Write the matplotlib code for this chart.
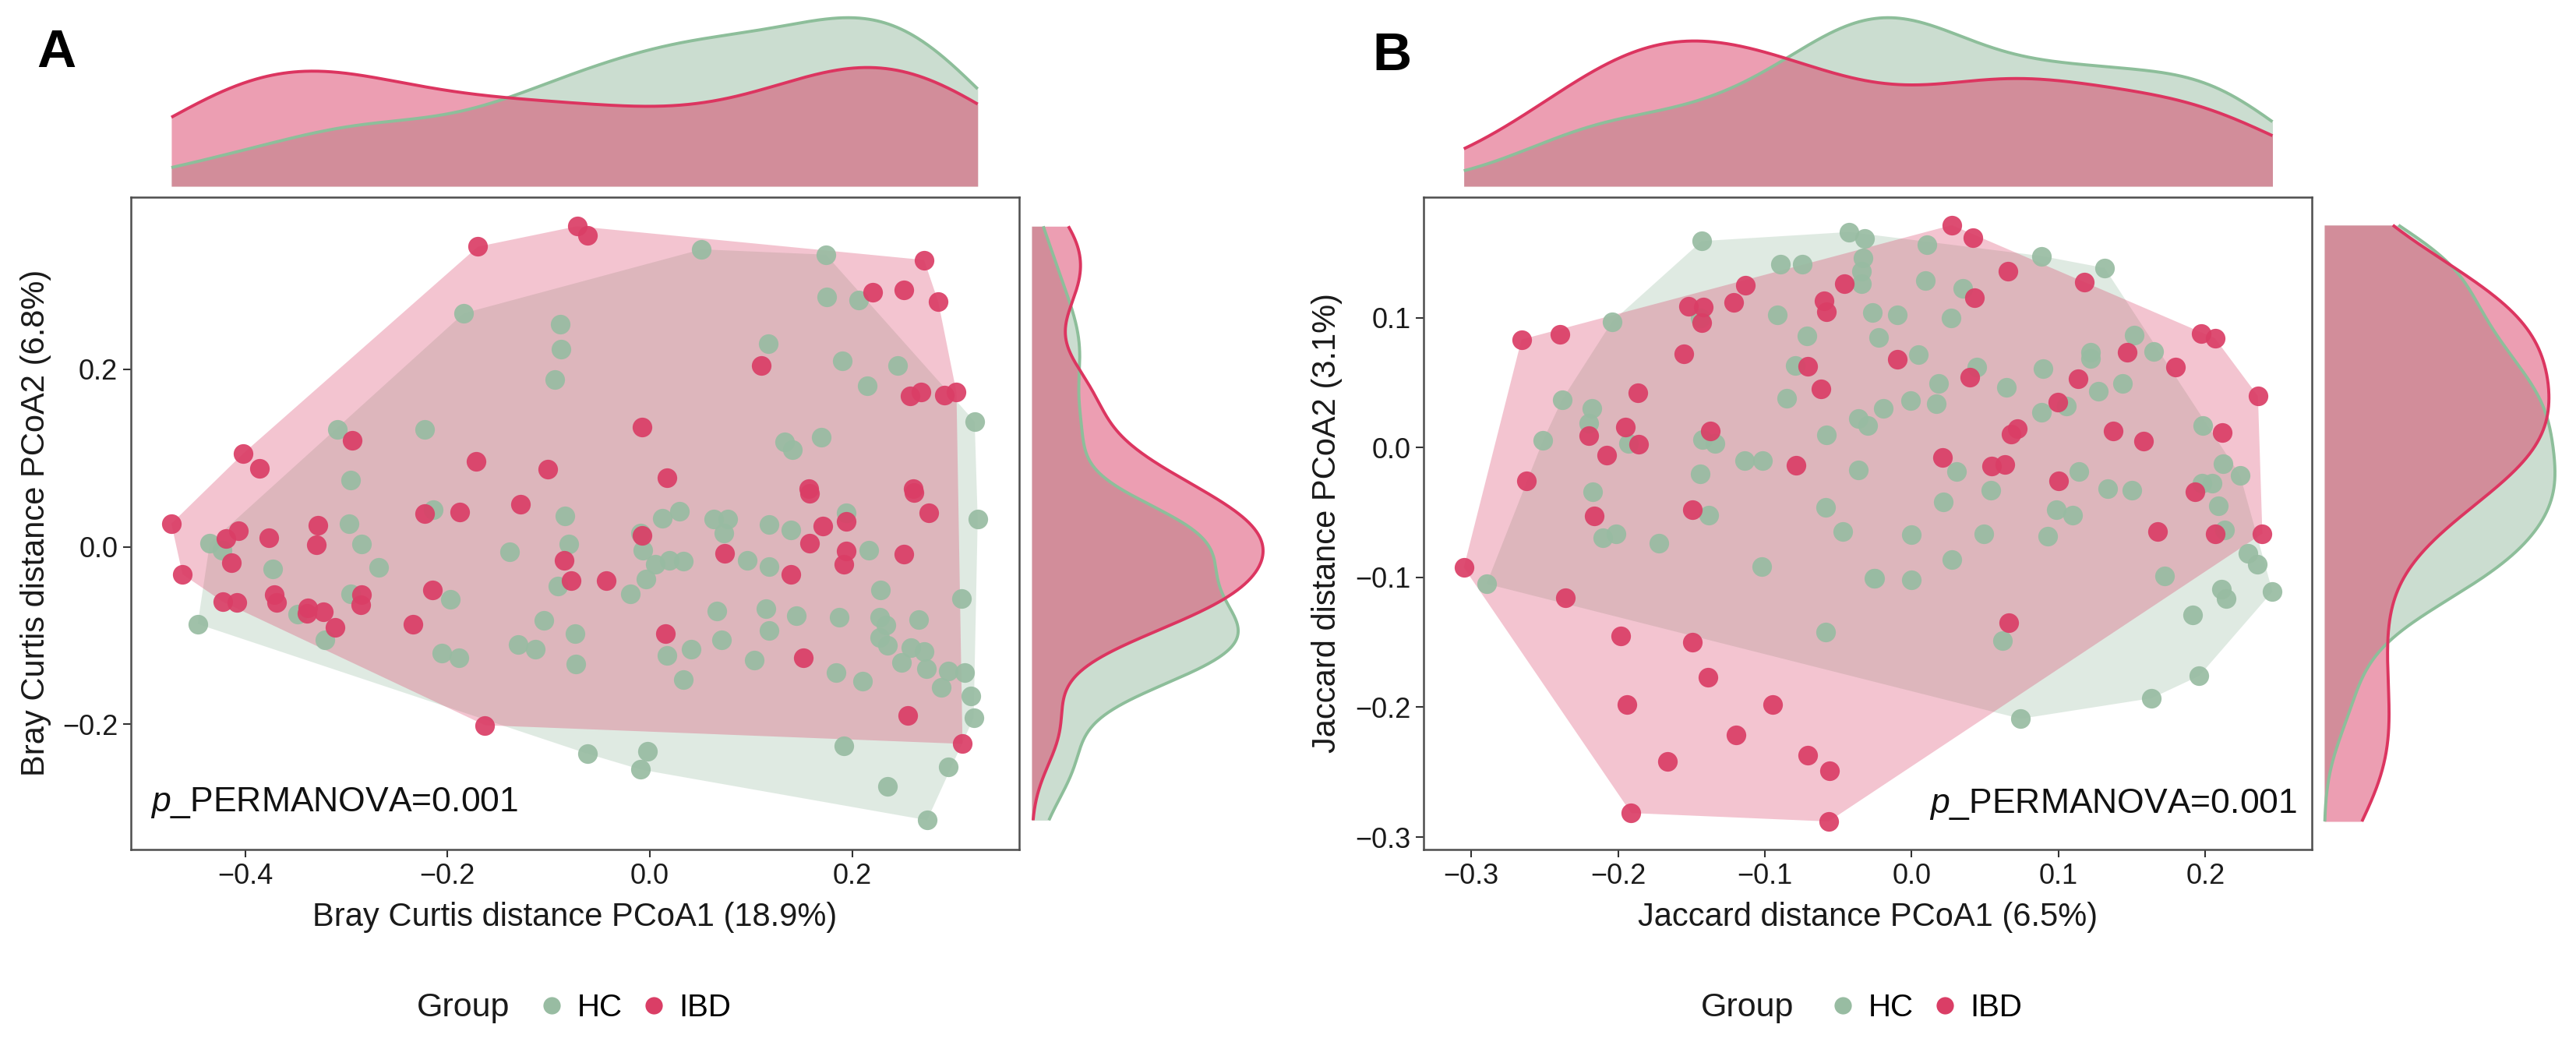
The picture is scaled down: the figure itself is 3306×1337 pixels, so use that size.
import numpy as np
import matplotlib
matplotlib.use('Agg')
import matplotlib.pyplot as plt
from matplotlib.lines import Line2D

plt.rcParams['font.family'] = ['Liberation Sans', 'DejaVu Sans']
plt.rcParams['mathtext.fontset'] = 'custom'
plt.rcParams['mathtext.it'] = 'Liberation Sans:italic'
plt.rcParams['mathtext.rm'] = 'Liberation Sans'

groups = ['HC', 'IBD']
group_colors = ['#98BCA2', '#DA3E66']
line_colors = ['#8DBE9A', '#DC3560']

# ---------------- Panel A: Bray Curtis ----------------
bray_hc_x = [-0.184, -0.309, -0.223, -0.296,
             0.051, 0.174, 0.175, 0.206, -0.089, -0.088, -0.094, 0.117, 0.190, 0.245, 0.215, 0.321, 0.133, 0.141, 0.169,
             -0.435, -0.423, -0.373, -0.297, -0.285, -0.268, -0.214, -0.139, -0.348, -0.321, -0.447, -0.296, -0.197, -0.206, -0.189, -0.130,
             -0.084, -0.080, -0.091, -0.009, 0.012, 0.029, -0.007, 0.005, 0.019, 0.033, -0.004, -0.019, 0.063, 0.077, 0.073, 0.096, 0.118, 0.139, 0.118, 0.194, 0.216, 0.324, 0.228, 0.308,
             -0.105, -0.074, -0.113, -0.073, 0.017, 0.041, 0.033, 0.066, 0.071, 0.103, 0.115, 0.118, 0.145, 0.187, 0.184, 0.210, 0.227, 0.233, 0.227, 0.235, 0.266, 0.258, 0.271, 0.249, 0.273, 0.288, 0.295, 0.311, 0.317, 0.320,
             0.192, 0.295, 0.235, 0.274, -0.062, -0.002, -0.009]
bray_hc_y = [0.263, 0.132, 0.132, 0.075,
             0.335, 0.329, 0.281, 0.278, 0.251, 0.223, 0.188, 0.229, 0.209, 0.204, 0.181, 0.141, 0.118, 0.109, 0.123,
             0.004, -0.004, -0.025, 0.026, 0.003, -0.023, 0.042, -0.006, -0.076, -0.105, -0.087, -0.053, -0.059, -0.120, -0.125, -0.110,
             0.035, 0.003, -0.044, 0.015, 0.032, 0.040, -0.004, -0.020, -0.015, -0.016, -0.036, -0.053, 0.031, 0.031, 0.015, -0.015, 0.025, 0.019, -0.022, 0.038, -0.004, 0.031, -0.049, -0.058,
             -0.083, -0.098, -0.115, -0.132, -0.122, -0.115, -0.150, -0.072, -0.105, -0.128, -0.070, -0.094, -0.078, -0.079, -0.142, -0.151, -0.079, -0.088, -0.102, -0.111, -0.082, -0.114, -0.118, -0.130, -0.137, -0.158, -0.140, -0.142, -0.168, -0.193,
             -0.224, -0.248, -0.270, -0.308, -0.233, -0.230, -0.251]
bray_ibd_x = [-0.170, -0.294, -0.402, -0.386, -0.172,
              -0.072, -0.062, 0.271, 0.220, 0.251, 0.285, 0.110, 0.257, 0.268, 0.291, 0.303, -0.008, -0.101, 0.017, 0.157, 0.260,
              -0.473, -0.419, -0.407, -0.414, -0.462, -0.377, -0.328, -0.330, -0.223, -0.188, -0.128, -0.422, -0.408, -0.371, -0.369, -0.338, -0.339, -0.323, -0.311, -0.285, -0.286, -0.215, -0.234, -0.163,
              -0.085, -0.078, -0.043, -0.008, 0.074, 0.139, 0.158, 0.171, 0.158, 0.194, 0.194, 0.192, 0.261, 0.276, 0.251, 0.015, 0.152, 0.255, 0.309]
bray_ibd_y = [0.338, 0.120, 0.105, 0.088, 0.096,
              0.361, 0.351, 0.323, 0.287, 0.289, 0.276, 0.204, 0.170, 0.174, 0.171, 0.174, 0.135, 0.087, 0.078, 0.065, 0.065,
              0.026, 0.009, 0.018, -0.018, -0.031, 0.010, 0.024, 0.002, 0.037, 0.039, 0.048, -0.062, -0.063, -0.054, -0.063, -0.069, -0.075, -0.073, -0.091, -0.054, -0.065, -0.049, -0.087, -0.201,
              -0.015, -0.038, -0.038, 0.013, -0.007, -0.031, 0.060, 0.023, 0.004, 0.029, -0.005, -0.020, 0.061, 0.038, -0.008, -0.098, -0.125, -0.190, -0.222]

# ---------------- Panel B: Jaccard ----------------
jac_hc_x = [-0.143, -0.0425, -0.032, -0.033, -0.034, -0.034, -0.0895, -0.0747, -0.204, -0.144, -0.0916, -0.0267, -0.0714, -0.0225,
            -0.0794, -0.238, -0.218, -0.2198, -0.251, -0.193, -0.1425, -0.134, -0.0853, -0.0362, -0.0299, -0.0583, -0.0194, -0.114,
            -0.1015, -0.144, -0.217, -0.138, -0.0587, -0.0467, -0.2103, -0.2015, -0.172, -0.102, -0.025, -0.2895, -0.0587, -0.0363,
            0.0105, 0.0094, 0.035, -0.0096, 0.027, 0.0885, 0.1314, 0.0046, 0.0444, 0.0183,
            -0.0006, 0.0166, 0.0644, 0.0895, 0.0885, 0.1052, 0.122, 0.122, 0.1514, 0.1646,
            0.1273, 0.1436, 0.1981, 0.2122, 0.2237, 0.1975, 0.2048, 0.209, 0.2132, 0.0304,
            0.0539, 0.0214, 0.114, 0.1335, 0.1499, 0.0983, 0.1094, 0.0, 0.0493, 0.0927,
            0.0273, -0.0258, 0.0, 0.1723, 0.2289, 0.2352, 0.2457, 0.2111, 0.2143, 0.1912,
            0.0618, 0.1958, 0.1633, 0.0742]
jac_hc_y = [0.159, 0.166, 0.161, 0.146, 0.136, 0.126, 0.141, 0.141, 0.097, 0.0997, 0.102, 0.104, 0.0858, 0.0848,
            0.0634, 0.037, 0.030, 0.0188, 0.0056, 0.003, 0.0063, 0.003, 0.038, 0.0221, 0.0172, 0.0096, 0.030, -0.0099,
            -0.0099, -0.020, -0.034, -0.052, -0.0462, -0.0647, -0.0696, -0.0663, -0.0736, -0.0917, -0.1007, -0.105, -0.142, -0.0175,
            0.1564, 0.1284, 0.1228, 0.1023, 0.0997, 0.1475, 0.1383, 0.0716, 0.0617, 0.0495,
            0.0363, 0.0337, 0.0462, 0.0607, 0.0271, 0.032, 0.0733, 0.0683, 0.0865, 0.0739,
            0.0436, 0.0495, 0.0172, -0.0125, -0.0215, -0.0274, -0.0274, -0.0446, -0.0637, -0.0182,
            -0.033, -0.0416, -0.0185, -0.0314, -0.033, -0.0479, -0.0521, -0.067, -0.0663, -0.068,
            -0.0861, -0.1007, -0.1017, -0.099, -0.0818, -0.0901, -0.1109, -0.1089, -0.1165, -0.1287,
            -0.1485, -0.1759, -0.1931, -0.2089]
jac_ibd_x = [-0.2657, -0.2394, -0.113, -0.121, -0.152, -0.142, -0.143, -0.0594, -0.0579, -0.0457,
             -0.155, -0.071, -0.0619, -0.1867, -0.1952, -0.2198, -0.1857, -0.2078, -0.1373, -0.2621,
             -0.079, -0.1493, -0.2162, -0.305, -0.2356, -0.1979, -0.1495, -0.1387, -0.1941, -0.0947,
             -0.1194, -0.1663, -0.0709, -0.0562, -0.191, -0.0566,
             0.0273, 0.0419, 0.0654, 0.1174, 0.043, -0.0096, 0.0398, 0.1465, 0.1132, 0.0996,
             0.1797, 0.1969, 0.2065, 0.2358, 0.0717, 0.0675, 0.1371, 0.1581, 0.2115, 0.021,
             0.0545, 0.0633, 0.1, 0.1927, 0.1677, 0.2065, 0.2388, 0.066]
jac_ibd_y = [0.0832, 0.0871, 0.125, 0.112, 0.109, 0.108, 0.0964, 0.1129, 0.1046, 0.126,
             0.0723, 0.0624, 0.0452, 0.0419, 0.0155, 0.0089, 0.0023, -0.0059, 0.0129, -0.0257,
             -0.0135, -0.0479, -0.0528, -0.0924, -0.1158, -0.1452, -0.150, -0.1769, -0.198, -0.198,
             -0.2211, -0.2419, -0.237, -0.249, -0.2815, -0.288,
             0.1713, 0.1617, 0.136, 0.1271, 0.1152, 0.0677, 0.0541, 0.0733, 0.0528, 0.0347,
             0.0617, 0.0875, 0.0842, 0.0396, 0.0145, 0.0106, 0.0129, 0.005, 0.0115, -0.0076,
             -0.0142, -0.0132, -0.0257, -0.034, -0.0644, -0.0663, -0.0663, -0.1347]

W, H = 3306, 1337
fig = plt.figure(figsize=(W / 100, H / 100), dpi=100)


def kde_nrd0(data, grid):
    data = np.asarray(data, float)
    n = len(data)
    sd = data.std(ddof=1)
    q75, q25 = np.percentile(data, [75, 25])
    bw = 0.9 * min(sd, (q75 - q25) / 1.34) * n ** -0.2
    z = (grid[:, None] - data[None, :]) / bw
    return np.exp(-0.5 * z ** 2).sum(axis=1) / (n * bw * np.sqrt(2 * np.pi))


def convex_hull(x, y):
    pts = sorted(set(zip(x, y)))

    def cross(o, a, b):
        return (a[0] - o[0]) * (b[1] - o[1]) - (a[1] - o[1]) * (b[0] - o[0])
    lower, upper = [], []
    for p in pts:
        while len(lower) >= 2 and cross(lower[-2], lower[-1], p) <= 0:
            lower.pop()
        lower.append(p)
    for p in reversed(pts):
        while len(upper) >= 2 and cross(upper[-2], upper[-1], p) <= 0:
            upper.pop()
        upper.append(p)
    hull = lower[:-1] + upper[:-1]
    return [p[0] for p in hull], [p[1] for p in hull]


def fmt(v):
    return f"{v:.1f}".replace('-', '\u2212')


def panel(xl, top_rect, right_rect, xs, ys, xlim, ylim, xticks, yticks,
          xlabel, ylabel, ylabel_x, ptxt_xy, ptxt_ha, letter, letter_xy):
    main_rect = [xl, 1 - 1090 / H, 1140 / W, (1090 - 252.7) / H]
    ax = fig.add_axes(main_rect)
    for gx, gy, c in zip(xs, ys, group_colors):
        hx, hy = convex_hull(gx, gy)
        ax.fill(hx, hy, color=c, alpha=0.3, lw=0, zorder=1)
    for gx, gy, c in zip(xs, ys, group_colors):
        ax.scatter(gx, gy, s=330, color=c, alpha=0.92, lw=0, zorder=3)
    ax.set_xlim(*xlim)
    ax.set_ylim(*ylim)
    ax.set_xticks(xticks, [fmt(v) for v in xticks])
    ax.set_yticks(yticks, [fmt(v) for v in yticks])
    ax.tick_params(length=7, width=1.5, color='#333333', labelsize=26,
                   labelcolor='#1a1a1a', pad=5)
    for sp in ax.spines.values():
        sp.set_color('#4d4d4d')
        sp.set_linewidth(1.8)
    ax.set_xlabel(xlabel, fontsize=30, color='#1a1a1a')
    ax.set_ylabel(ylabel, fontsize=30, color='#1a1a1a')
    ax.xaxis.set_label_coords(0.5, -0.104)
    ax.xaxis.label.set_va('center')
    ax.yaxis.set_label_coords(ylabel_x, 0.5)
    ax.yaxis.label.set_va('center')
    ax.text(ptxt_xy[0], ptxt_xy[1], r'$\mathit{p}$_PERMANOVA=0.001', fontsize=32,
            ha=ptxt_ha, va='baseline', color='#111111', zorder=5)

    allx = np.concatenate([np.asarray(g) for g in xs])
    ally = np.concatenate([np.asarray(g) for g in ys])
    # top marginal density
    axt = fig.add_axes([xl, top_rect[0], 1140 / W, top_rect[1]])
    gridx = np.linspace(allx.min(), allx.max(), 600)
    dmax = 0
    for gx, c, lc in zip(xs, group_colors, line_colors):
        d = kde_nrd0(gx, gridx)
        dmax = max(dmax, d.max())
        axt.fill_between(gridx, 0, d, color=c, alpha=0.5, lw=0)
        axt.plot(gridx, d, color=lc, lw=2.8, clip_on=False, solid_capstyle='butt')
    axt.set_xlim(*xlim)
    axt.set_ylim(0, dmax)
    axt.axis('off')
    # right marginal density
    axr = fig.add_axes([right_rect[0], main_rect[1], right_rect[1], main_rect[3]])
    gridy = np.linspace(ally.min(), ally.max(), 600)
    dmax = 0
    for gy, c, lc in zip(ys, group_colors, line_colors):
        d = kde_nrd0(gy, gridy)
        dmax = max(dmax, d.max())
        axr.fill_betweenx(gridy, 0, d, color=c, alpha=0.5, lw=0)
        axr.plot(d, gridy, color=lc, lw=2.8, clip_on=False, solid_capstyle='butt')
    axr.set_ylim(*ylim)
    axr.set_xlim(0, dmax)
    axr.axis('off')

    fig.text(letter_xy[0] / W, 1 - letter_xy[1] / H, letter, fontsize=50, fontweight='bold',
             ha='center', va='center')
    return ax


top_rect = (1 - 239 / H, (239 - 22.7) / H)

panel(168 / W, top_rect, (1324 / W, 297 / W),
      [bray_hc_x, bray_ibd_x], [bray_hc_y, bray_ibd_y],
      (-0.513, 0.365), (-0.341, 0.394), [-0.4, -0.2, 0.0, 0.2], [-0.2, 0.0, 0.2],
      'Bray Curtis distance PCoA1 (18.9%)', 'Bray Curtis distance PCoA2 (6.8%)', -0.107,
      (-0.494, -0.298), 'left', 'A', (72, 68))

panel(1827 / W, top_rect, (2983 / W, 296 / W),
      [jac_hc_x, jac_ibd_x], [jac_hc_y, jac_ibd_y],
      (-0.3324, 0.2725), (-0.3096, 0.193), [-0.3, -0.2, -0.1, 0.0, 0.1, 0.2],
      [-0.3, -0.2, -0.1, 0.0, 0.1],
      'Jaccard distance PCoA1 (6.5%)', 'Jaccard distance PCoA2 (3.1%)', -0.109,
      (0.2627, -0.2815), 'right', 'B', (1786, 72))

# legends
handles = [Line2D([], [], marker='o', ls='', color=c, markersize=16, markeredgewidth=0)
           for c in group_colors]
for grp_x, leg_x in [(535 / W, 688 / W), (2183 / W, 2345 / W)]:
    fig.text(grp_x, 1 - 1293 / H, 'Group', fontsize=31, ha='left', va='center', color='#1a1a1a')
    fig.legend(handles, groups, ncol=2, loc='center left', bbox_to_anchor=(leg_x, 1 - 1293 / H),
               frameon=False, fontsize=29, handlelength=1.0, handletextpad=0.3,
               columnspacing=0.5, borderpad=0, borderaxespad=0)

fig.savefig('out.png', dpi=100)
